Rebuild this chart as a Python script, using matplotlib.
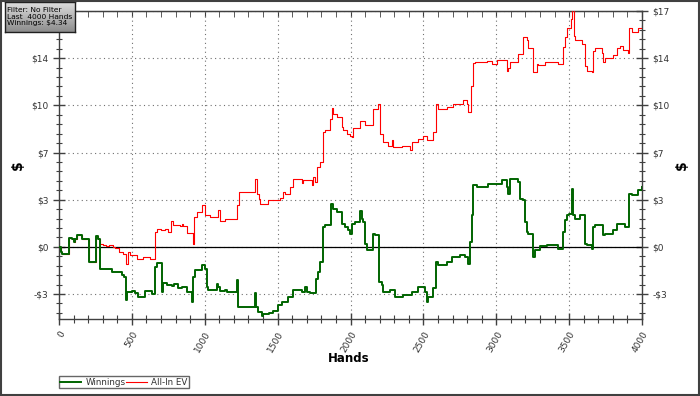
import numpy as np
import matplotlib
matplotlib.use("Agg")
import matplotlib.pyplot as plt
import matplotlib.patches as patches
from matplotlib.ticker import FixedLocator, MultipleLocator, FuncFormatter

# ---------------------------------------------------------------------------
# data (hand number where a step starts, $ value after it)
win_hands = [0, 14, 23, 69, 87, 100, 110, 121, 156, 206, 252, 265, 281, 320, 361, 430, 445,
             458, 466, 499, 520, 544, 590, 610, 636, 659, 670, 709, 716, 740, 773, 790, 819,
             845, 876, 910, 922, 933, 979, 1001, 1013, 1024, 1081, 1093, 1104, 1139, 1150,
             1219, 1230, 1344, 1351, 1367, 1390, 1402, 1440, 1470, 1504, 1527, 1573, 1607,
             1665, 1690, 1700, 1722, 1763, 1779, 1790, 1813, 1825, 1864, 1882, 1905, 1939,
             1962, 1985, 1996, 2012, 2031, 2065, 2076, 2088, 2099, 2111, 2156, 2168, 2198,
             2214, 2225, 2271, 2305, 2362, 2419, 2465, 2511, 2522, 2534, 2568, 2584, 2598,
             2659, 2694, 2717, 2750, 2785, 2804, 2820, 2831, 2843, 2865, 2945, 2991, 3037,
             3071, 3083, 3094, 3151, 3163, 3186, 3197, 3209, 3220, 3250, 3266, 3300, 3346,
             3426, 3456, 3472, 3488, 3501, 3517, 3524, 3540, 3574, 3609, 3620, 3654, 3666,
             3677, 3735, 3746, 3803, 3826, 3883, 3913, 3929, 3975, 3998, 4000]
win_values = [0, -0.36, -0.48, 0.67, 0.6, 0.36, 0.6, 0.89, 0.6, -1.1, 0.79, 0.6, -1.56, -1.63,
              -1.8, -2.0, -2.15, -3.84, -3.24, -3.2, -3.3, -3.6, -3.2, -3.15, -3.4, -1.44,
              -1.15, -3.24, -2.6, -2.75, -2.8, -2.7, -3.0, -2.9, -3.24, -3.96, -2.16, -1.68,
              -1.32, -1.56, -2.88, -3.1, -2.7, -2.9, -3.2, -3.1, -3.24, -2.4, -4.32, -3.36,
              -4.32, -4.7, -5.0, -4.85, -4.75, -4.6, -4.2, -4.0, -3.6, -3.1, -3.24, -2.9,
              -3.24, -3.36, -2.28, -1.8, -1.08, 1.44, 1.56, 3.12, 2.76, 2.5, 1.68, 1.4, 1.2,
              0.96, 1.68, 1.8, 2.57, 2.04, 1.8, 0.24, -0.24, 0.96, 0.84, -2.5, -2.76, -3.24,
              -3.1, -3.6, -3.48, -3.24, -2.88, -3.24, -3.96, -3.6, -3.0, -1.08, -1.32, -1.08,
              -0.72, -0.7, -0.6, -0.75, -1.2, 0.36, 2.28, 4.44, 4.3, 4.5, 4.55, 4.8, 4.3,
              3.84, 4.9, 4.7, 3.48, 3.36, 1.8, 1.08, 0.96, -0.72, -0.24, 0.05, 0.12, -0.12,
              1.08, 1.92, 2.28, 2.4, 4.2, 2.28, 2.04, 2.28, 0.24, 0.12, -0.12, 1.44, 1.56,
              0.84, 0.96, 1.2, 1.68, 1.44, 3.84, 3.72, 4.08, 4.34, 4.34]

ev_hands = [0, 14, 23, 69, 87, 100, 110, 121, 156, 206, 252, 265, 281, 300, 320, 340, 373,
            384, 410, 441, 458, 471, 487, 533, 579, 624, 659, 670, 700, 727, 750, 768, 784,
            830, 845, 853, 876, 922, 929, 945, 979, 1001, 1036, 1093, 1104, 1139, 1219,
            1237, 1344, 1356, 1374, 1379, 1436, 1516, 1534, 1550, 1585, 1607, 1665, 1676,
            1733, 1745, 1756, 1772, 1790, 1809, 1825, 1859, 1870, 1882, 1905, 1939, 1950,
            1973, 1996, 2008, 2019, 2065, 2099, 2156, 2191, 2202, 2225, 2259, 2282, 2294,
            2351, 2408, 2419, 2465, 2499, 2522, 2568, 2584, 2602, 2659, 2705, 2774, 2797,
            2808, 2826, 2843, 2854, 2934, 2968, 3003, 3071, 3083, 3094, 3151, 3186, 3209,
            3220, 3254, 3277, 3289, 3334, 3426, 3456, 3472, 3488, 3513, 3522, 3533, 3540,
            3586, 3609, 3620, 3654, 3666, 3677, 3723, 3735, 3746, 3803, 3826, 3849, 3872,
            3906, 3913, 3929, 3975, 3998, 4000]
ev_values = [0, -0.36, -0.48, 0.67, 0.6, 0.36, 0.6, 0.89, 0.6, -1.1, 0.79, 0.6, 0.24, 0.15,
             0.05, 0.1, 0.0, -0.1, -0.36, -0.48, -1.2, -0.36, -0.6, -0.84, -0.72, -0.89,
             1.08, 1.27, 1.2, 1.27, 1.08, 1.85, 1.56, 1.5, 1.65, 1.5, 1.0, 0.24, 2.16, 2.5,
             3.0, 2.3, 2.16, 2.64, 1.9, 2.04, 3.0, 3.96, 4.9, 3.84, 3.48, 3.12, 3.36, 3.5,
             3.96, 3.84, 4.3, 4.9, 4.6, 4.8, 4.44, 5.0, 4.7, 5.76, 6.1, 8.27, 8.44, 9.2,
             10.0, 9.6, 9.35, 8.63, 8.4, 8.15, 8.0, 7.9, 8.6, 9.1, 8.75, 9.95, 10.3, 8.15,
             7.55, 7.3, 7.67, 7.2, 7.3, 6.95, 7.55, 7.8, 8.0, 7.7, 8.27, 10.3, 9.95, 10.1,
             10.3, 10.55, 10.3, 9.7, 11.6, 13.26, 13.3, 13.4, 13.2, 13.5, 12.7, 12.9, 13.3,
             13.9, 15.1, 14.9, 14.3, 12.6, 13.2, 13.1, 13.3, 13.2, 14.4, 15.1, 15.8, 16.4,
             17.3, 15.2, 14.9, 14.6, 13.0, 12.7, 12.6, 14.1, 14.3, 14.0, 13.3, 13.6, 13.8,
             14.3, 14.5, 14.2, 14.0, 15.8, 15.5, 15.8, 15.95, 15.95]

y_ticks = [-3.4, 0, 3.4, 6.8, 10.2, 13.6, 17.0]
x_ticks = [0, 500, 1000, 1500, 2000, 2500, 3000, 3500, 4000]
info_lines = ["Filter: No Filter", "Last  4000 Hands", "Winnings: $4.34"]
# ---------------------------------------------------------------------------

plt.rcParams['font.family'] = ['DejaVu Sans']
W, H = 700, 396
fig = plt.figure(figsize=(W / 100, H / 100), dpi=100)
fig.patch.set_facecolor('white')

# outer frame of the picture
fig.patches.append(patches.Rectangle((0.001, 0.002), 0.997, 0.995, transform=fig.transFigure,
                                     fill=False, edgecolor='#404040', linewidth=1.5))

ax = fig.add_axes([59 / W, 1 - 319.3 / H, 583 / W, 308.6 / H])

ax.plot(ev_hands, ev_values, drawstyle='steps-post', color='#ff0000', lw=0.8, label='All-In EV', zorder=3)
ax.plot(win_hands, win_values, drawstyle='steps-post', color='#006400', lw=1.4, label='Winnings', zorder=4)
ax.axhline(0, color='black', lw=0.9, zorder=2)

ax.set_xlim(0, 4000)
ax.set_ylim(-5.22, 17.02)

ax.xaxis.set_major_locator(FixedLocator(x_ticks))
ax.xaxis.set_minor_locator(MultipleLocator(100))
ax.yaxis.set_major_locator(FixedLocator(y_ticks))
ax.yaxis.set_minor_locator(MultipleLocator(0.68))

def money(v, pos):
    if v < -0.01:
        return '-$%d' % round(-v)
    return '$%d' % round(v)

ax.yaxis.set_major_formatter(FuncFormatter(money))

ax.grid(True, which='major', linestyle=(0, (1, 3)), color='#707070', linewidth=0.8)

for s in ax.spines.values():
    s.set_color('#404040')
    s.set_linewidth(1.0)

ax.tick_params(axis='y', which='both', direction='inout', left=True, right=True,
               labelleft=True, labelright=True, labelsize=6.5, labelcolor='#333333', color='#404040')
ax.tick_params(axis='y', which='major', length=8, width=1.0)
ax.tick_params(axis='y', which='minor', length=5, width=0.8)
ax.tick_params(axis='x', which='both', direction='inout', bottom=True, top=False,
               labelsize=6.5, labelcolor='#333333', color='#404040')
ax.tick_params(axis='x', which='major', length=8, width=1.0)
ax.tick_params(axis='x', which='minor', length=6, width=0.8)
for lab in ax.get_xticklabels():
    lab.set_rotation(60)
    lab.set_ha('right')
    lab.set_va('top')
    lab.set_rotation_mode('anchor')

# the info box hides the left $17 label in the original
ax.yaxis.get_major_ticks()[-1].label1.set_visible(False)

# small ticks pointing down from the top edge
top = ax.secondary_xaxis('top')
top.xaxis.set_major_locator(FixedLocator(x_ticks))
top.xaxis.set_minor_locator(MultipleLocator(100))
top.tick_params(which='both', direction='in', length=4, color='#404040', labeltop=False)
top.spines['top'].set_color('#404040')

fig.text(349 / W, 1 - 358 / H, 'Hands', ha='center', va='center', fontsize=8.5, fontweight='bold')
fig.text(18 / W, 1 - 165 / H, '$', ha='center', va='center', fontsize=10, fontweight='bold', rotation=90)
fig.text(682 / W, 1 - 165 / H, '$', ha='center', va='center', fontsize=10, fontweight='bold', rotation=90)

# legend in the bottom-left corner
handles, labels = ax.get_legend_handles_labels()
leg = fig.legend(handles[::-1], labels[::-1], loc='lower left', bbox_to_anchor=(59 / W, 1 - 388 / H),
                 ncol=2, fontsize=6.3, frameon=True, fancybox=False, borderpad=0.15,
                 handlelength=2.4, handletextpad=0.45, columnspacing=0.1, borderaxespad=0)
leg.get_frame().set_edgecolor('#404040')
leg.get_frame().set_linewidth(1.0)
for t in leg.get_texts():
    t.set_color('#333333')

# info box with grey gradient, the three lines as one text block
box = fig.add_axes([5 / W, 1 - 32 / H, 70 / W, 30 / H])
grad = np.linspace(0.88, 0.55, 50).reshape(-1, 1)
box.imshow(grad, aspect='auto', cmap='gray', vmin=0, vmax=1, extent=(0, 1, 0, 1))
box.set_xticks([])
box.set_yticks([])
for s in box.spines.values():
    s.set_color('#202020')
    s.set_linewidth(1.0)
box.text(0.03, 0.5, '\n'.join(info_lines), transform=box.transAxes, fontsize=5.4,
         va='center', ha='left', color='black', linespacing=1.1)

fig.savefig('out.png', dpi=100)
